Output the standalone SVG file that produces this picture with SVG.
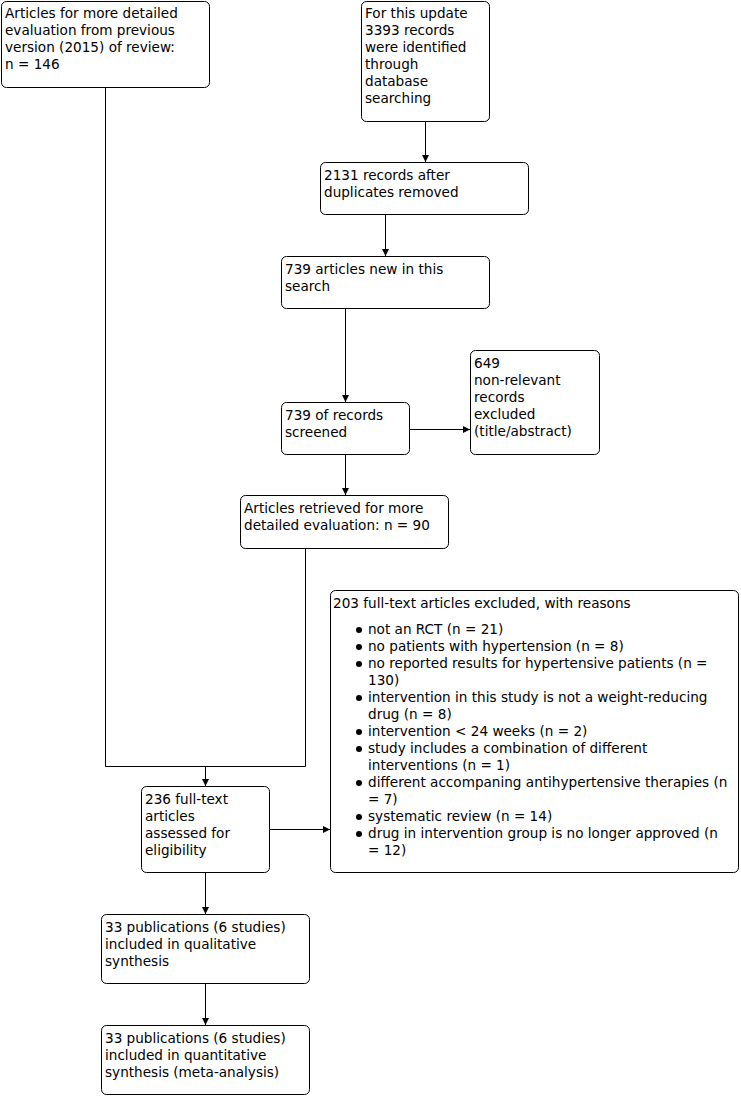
<svg xmlns="http://www.w3.org/2000/svg" width="741" height="1096" viewBox="0 0 741 1096">
<defs>
<style>
.box{fill:#fff;stroke:#000;stroke-width:1}
text{font-family:"DejaVu Sans","Verdana",sans-serif;font-size:13.6px;fill:#000}
.c{fill:none;stroke:#000;stroke-width:1}
</style>
<marker id="ah" markerUnits="userSpaceOnUse" markerWidth="7" markerHeight="7" refX="7" refY="3.5" orient="auto">
<path d="M0,0 L7,3.5 L0,7 z" fill="#000"/>
</marker>
</defs>
<rect width="741" height="1096" fill="#fff"/>
<g id="connectors">
<path class="c" d="M425.5,121 V162" marker-end="url(#ah)"/>
<path class="c" d="M385.5,214 V256" marker-end="url(#ah)"/>
<path class="c" d="M345.5,309 V402" marker-end="url(#ah)"/>
<path class="c" d="M409,429.5 H470" marker-end="url(#ah)"/>
<path class="c" d="M345.5,454 V495" marker-end="url(#ah)"/>
<path class="c" d="M105.5,87 V766.5 H305.5 V548"/>
<path class="c" d="M205.5,766.5 V786" marker-end="url(#ah)"/>
<path class="c" d="M269,829.5 H330" marker-end="url(#ah)"/>
<path class="c" d="M205.5,872 V914" marker-end="url(#ah)"/>
<path class="c" d="M205.5,983 V1025" marker-end="url(#ah)"/>
</g>
<g id="prev">
<rect class="box" x="1.5" y="1.5" width="208" height="86" rx="5"/>
<text x="5" y="18">Articles for more detailed</text>
<text x="5" y="35">evaluation from previous</text>
<text x="5" y="52">version (2015) of review:</text>
<text x="5" y="69">n = 146</text>
</g>
<g id="identified">
<rect class="box" x="361.5" y="1.5" width="128" height="120" rx="5"/>
<text x="365" y="18">For this update</text>
<text x="365" y="35">3393 records</text>
<text x="365" y="52">were identified</text>
<text x="365" y="69">through</text>
<text x="365" y="86">database</text>
<text x="365" y="103">searching</text>
</g>
<g id="duplicates">
<rect class="box" x="320.5" y="162.5" width="208" height="52" rx="5"/>
<text x="324" y="180">2131 records after</text>
<text x="324" y="197">duplicates removed</text>
</g>
<g id="new">
<rect class="box" x="281.5" y="256.5" width="208" height="52" rx="5"/>
<text x="285" y="274">739 articles new in this</text>
<text x="285" y="291">search</text>
</g>
<g id="screened">
<rect class="box" x="281.5" y="402.5" width="128" height="52" rx="5"/>
<text x="285" y="420">739 of records</text>
<text x="285" y="437">screened</text>
</g>
<g id="nonrelevant">
<rect class="box" x="470.5" y="350.5" width="129" height="104" rx="5"/>
<text x="474" y="368">649</text>
<text x="474" y="385">non-relevant</text>
<text x="474" y="402">records</text>
<text x="474" y="419">excluded</text>
<text x="474" y="436">(title/abstract)</text>
</g>
<g id="retrieved">
<rect class="box" x="240.5" y="495.5" width="208" height="53" rx="5"/>
<text x="244" y="513">Articles retrieved for more</text>
<text x="244" y="530">detailed evaluation: n = 90</text>
</g>
<g id="excluded">
<rect class="box" x="330.5" y="590.5" width="408" height="282" rx="5"/>
<text x="333" y="608">203 full-text articles excluded, with reasons</text>
<g fill="#000">
<circle cx="359" cy="630" r="3"/>
<circle cx="359" cy="647" r="3"/>
<circle cx="359" cy="664" r="3"/>
<circle cx="359" cy="698" r="3"/>
<circle cx="359" cy="732" r="3"/>
<circle cx="359" cy="749" r="3"/>
<circle cx="359" cy="783" r="3"/>
<circle cx="359" cy="817" r="3"/>
<circle cx="359" cy="834" r="3"/>
</g>
<text x="368" y="634">not an RCT (n = 21)</text>
<text x="368" y="651">no patients with hypertension (n = 8)</text>
<text x="368" y="668">no reported results for hypertensive patients (n =</text>
<text x="368" y="685">130)</text>
<text x="368" y="702">intervention in this study is not a weight-reducing</text>
<text x="368" y="719">drug (n = 8)</text>
<text x="368" y="736">intervention &lt; 24 weeks (n = 2)</text>
<text x="368" y="753">study includes a combination of different</text>
<text x="368" y="770">interventions (n = 1)</text>
<text x="368" y="787">different accompaning antihypertensive therapies (n</text>
<text x="368" y="804">= 7)</text>
<text x="368" y="821">systematic review (n = 14)</text>
<text x="368" y="838">drug in intervention group is no longer approved (n</text>
<text x="368" y="855">= 12)</text>
</g>
<g id="assessed">
<rect class="box" x="141.5" y="786.5" width="128" height="86" rx="5"/>
<text x="145" y="804">236 full-text</text>
<text x="145" y="821">articles</text>
<text x="145" y="838">assessed for</text>
<text x="145" y="855">eligibility</text>
</g>
<g id="qualitative">
<rect class="box" x="101.5" y="914.5" width="208" height="69" rx="5"/>
<text x="105" y="932">33 publications (6 studies)</text>
<text x="105" y="949">included in qualitative</text>
<text x="105" y="966">synthesis</text>
</g>
<g id="quantitative">
<rect class="box" x="101.5" y="1025.5" width="208" height="69" rx="5"/>
<text x="105" y="1043">33 publications (6 studies)</text>
<text x="105" y="1060">included in quantitative</text>
<text x="105" y="1077">synthesis (meta-analysis)</text>
</g>
</svg>
